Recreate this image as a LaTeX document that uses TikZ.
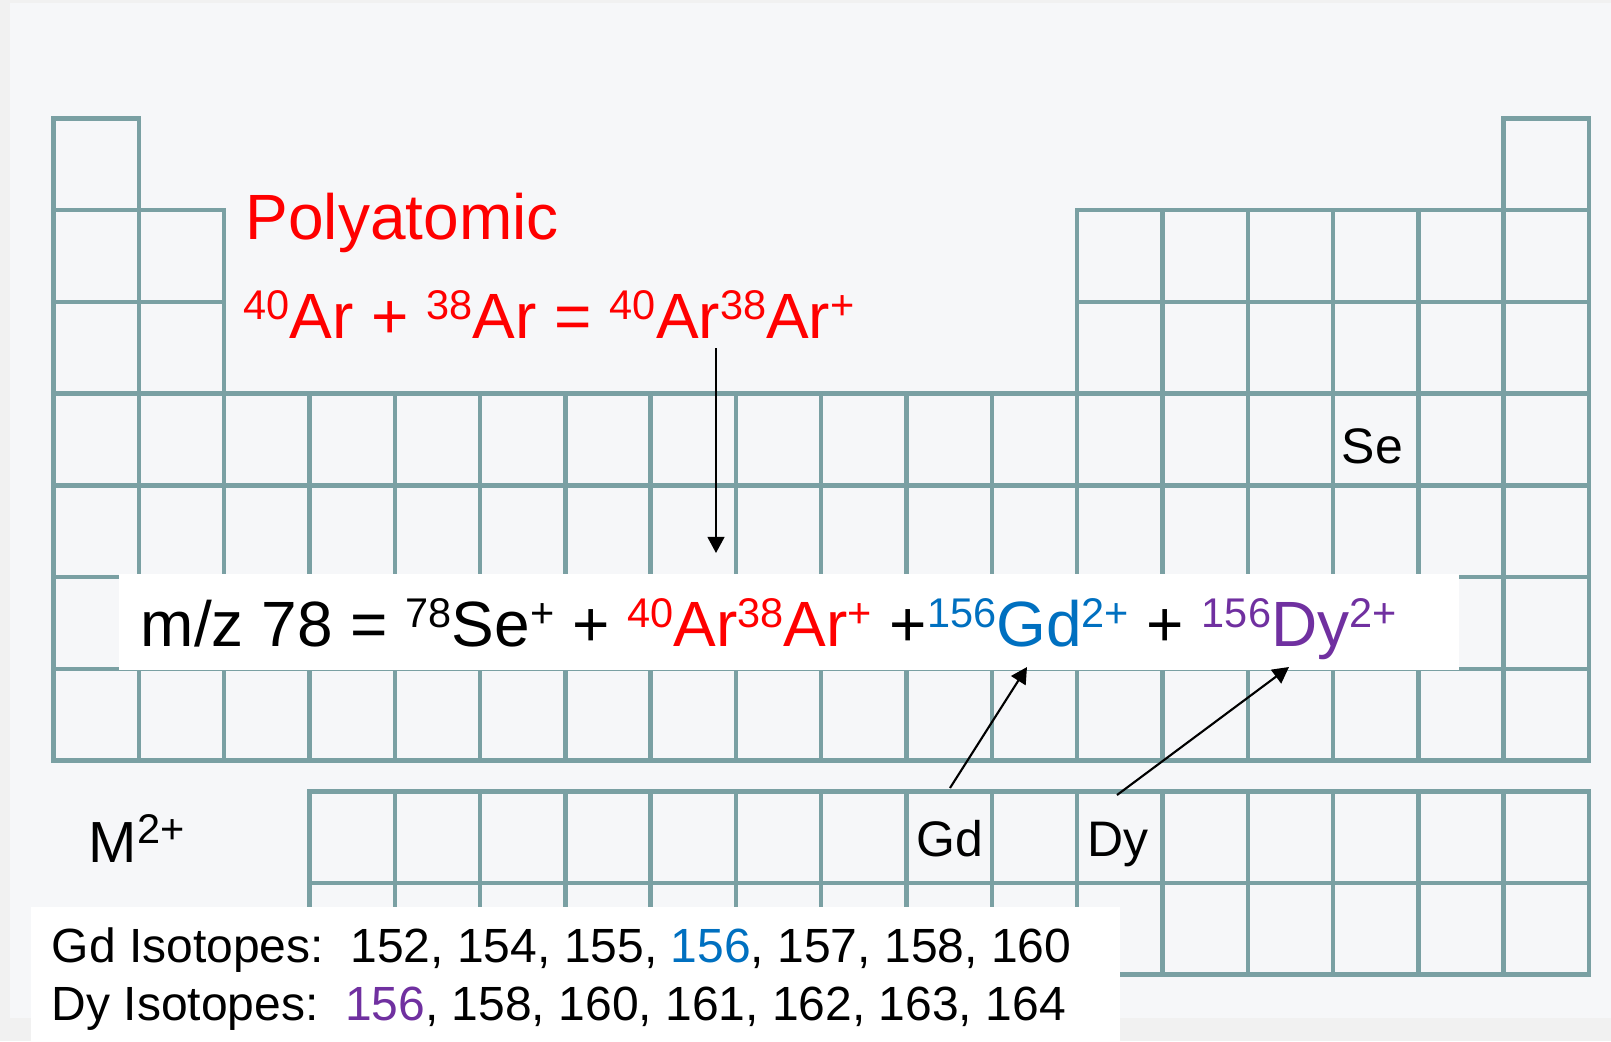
\documentclass[tikz,border=0pt]{standalone}
\usepackage{fontspec}
\setmainfont{Liberation Sans}
\usepackage{xcolor}
\usepackage{tikz}
\usetikzlibrary{arrows.meta, positioning}
\definecolor{tablegrid}{RGB}{122,160,163}
\definecolor{slidebg}{RGB}{246,247,249}
\definecolor{slideedge}{RGB}{241,241,241}
\definecolor{gdblue}{RGB}{0,112,192}
\definecolor{dypurple}{RGB}{112,48,160}
\newcommand{\sups}[1]{\raisebox{5.4pt}{\fontsize{11.8}{12}\selectfont #1}}

\begin{document}
\begin{tikzpicture}[x=0.01cm, y=-0.01cm,
    every node/.style={inner sep=0pt, anchor=base west},
    cell/.style={draw=tablegrid, line width=1.25pt},
    pointer/.style={-{Triangle[length=4.6pt,width=4.8pt]}, line width=0.6pt},
    bigtxt/.style={font=\fontsize{18.2}{21}\selectfont},
    lbl/.style={font=\fontsize{14.2}{17}\selectfont},
    isotxt/.style={font=\fontsize{13.65}{16}\selectfont}]
  % Slide background
  \fill[slideedge] (0,0) rectangle (1611,1041);
  \fill[slidebg] (10,3) rectangle (1611,1018);
  \useasboundingbox (0,0) rectangle (1611,1041);

  % Periodic table grid
  \def\gx{53.5} \def\gy{118.5} \def\cw{85.3} \def\rh{91.7}
  \foreach \c in {0,17}
    \draw[cell] ({\gx+\c*\cw},\gy) rectangle ++(\cw,\rh);
  \foreach \r in {1,2}
    \foreach \c in {0,1,12,13,14,15,16,17}
      \draw[cell] ({\gx+\c*\cw},{\gy+\r*\rh}) rectangle ++(\cw,\rh);
  \foreach \r in {3,...,6}
    \foreach \c in {0,...,17}
      \draw[cell] ({\gx+\c*\cw},{\gy+\r*\rh}) rectangle ++(\cw,\rh);
  % f-block
  \foreach \r in {0,1}
    \foreach \c in {3,...,17}
      \draw[cell] ({\gx+\c*\cw},{791.5+\r*91.5}) rectangle ++(\cw,91.5);

  % Polyatomic interference
  \node[bigtxt, text=red] (polyatomic) at (245,239) {Polyatomic};
  \node[bigtxt, text=red] (areq) at (243,338)
    {\sups{40}Ar + \sups{38}Ar = \sups{40}Ar\sups{38}Ar\sups{+}};

  % m/z 78 box
  \fill[white] (119,574) rectangle (1459,670);
  \node[bigtxt] (mzeq) at (140,646)
    {m/z 78 = \sups{78}Se\sups{+} + \textcolor{red}{\sups{40}Ar\sups{38}Ar\sups{+}}
     +\textcolor{gdblue}{\sups{156}Gd\sups{2+}} + \textcolor{dypurple}{\sups{156}Dy\sups{2+}}};

  % Element labels
  \node[lbl] (se) at (1341,463) {Se};
  \node[lbl] (gdlbl) at (916,856) {Gd};
  \node[lbl] (dylbl) at (1087,856) {Dy};
  \node[font=\fontsize{16.5}{19}\selectfont] (mion) at (88,862) {M\sups{2+}};

  % Arrows
  \coordinate (artail) at (716,348);
  \coordinate (artip) at (716,553);
  \coordinate (gdtail) at (950,788);
  \coordinate (gdtip) at (1027,667);
  \coordinate (dytail) at (1117,795);
  \coordinate (dytip) at (1289,667);
  \draw[pointer] (artail) -- (artip);
  \draw[pointer] (gdtail) -- (gdtip);
  \draw[pointer] (dytail) -- (dytip);

  % Isotope list
  \fill[white] (31,907) rectangle (1120,1041);
  \node[isotxt] (gdiso) at (51,962)
    {Gd Isotopes:\ \ 152, 154, 155, \textcolor{gdblue}{156}, 157, 158, 160};
  \node[isotxt] (dyiso) at (51,1020)
    {Dy Isotopes:\ \ \textcolor{dypurple}{156}, 158, 160, 161, 162, 163, 164};
\end{tikzpicture}
\end{document}
